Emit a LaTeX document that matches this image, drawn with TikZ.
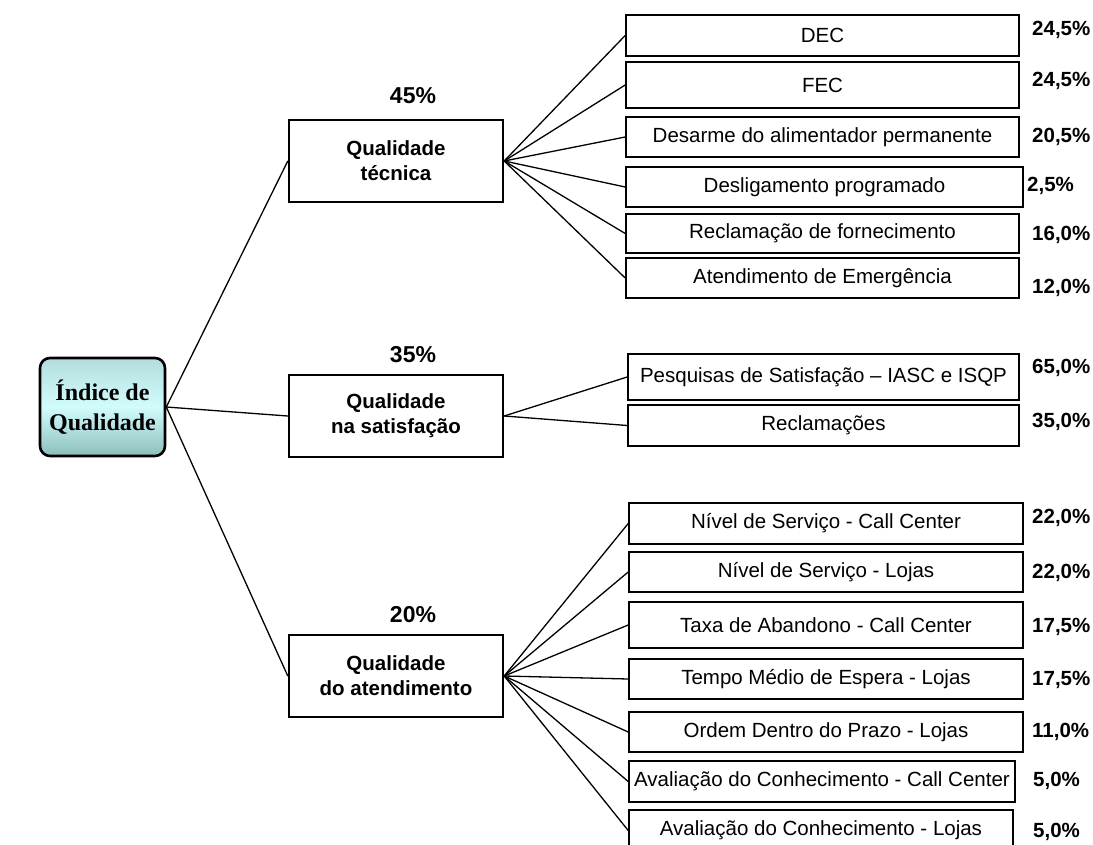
\documentclass[tikz,border=0pt]{standalone}
\usepackage{fontspec}
\setmainfont{Liberation Sans}
\newfontfamily\rootfont{Liberation Serif}
\begin{document}
\begin{tikzpicture}[x=1pt,y=-1pt,
  rootbox/.style={draw=black, line width=2.6pt, rounded corners=10pt,
    top color=rootTop, bottom color=rootBot, middle color=rootMid,
    minimum width=125pt, minimum height=98pt, inner sep=0pt, align=center,
    font=\rootfont\bfseries\fontsize{24}{30}\selectfont},
  midbox/.style={draw=black, line width=2.4pt, fill=white,
    minimum width=214pt, minimum height=82pt, inner sep=0pt, align=center,
    font=\bfseries\fontsize{20.5}{25}\selectfont},
  leaf/.style={draw=black, line width=1.6pt, fill=white,
    minimum width=393pt, inner sep=0pt, align=center,
    font=\fontsize{20.5}{24}\selectfont},
  weight/.style={anchor=west, inner sep=0pt, font=\bfseries\fontsize{20.5}{24}\selectfont},
  groupweight/.style={inner sep=0pt, font=\bfseries\fontsize{23}{27}\selectfont},
  link/.style={draw=black, line width=1.3pt}]
\definecolor{rootTop}{HTML}{B4DCDC}
\definecolor{rootMid}{HTML}{D2FCFC}
\definecolor{rootBot}{HTML}{8CBEBC}

\useasboundingbox (0,0) rectangle (1093,845);
\clip (0,0) rectangle (1093,845);

% root
\node[rootbox] (root) at (102.5,407) {Índice de\\Qualidade};

% groups
\node[midbox] (tec) at (396,161) {Qualidade\\técnica};
\node[midbox] (sat) at (396,416) {Qualidade\\na satisfação};
\node[midbox] (ate) at (396,676) {Qualidade\\do atendimento};

\node[groupweight] (wtec) at (413,96) {45\%};
\node[groupweight] (wsat) at (413,355) {35\%};
\node[groupweight] (wate) at (413,615) {20\%};

% technical quality indicators
\node[leaf, minimum height=41pt] (dec) at (822.5,35.5) {DEC};
\node[leaf, minimum height=46pt] (fec) at (822.5,85) {FEC};
\node[leaf, minimum height=40pt] (des) at (822.5,137) {Desarme do alimentador permanente};
\node[leaf, minimum height=40pt, minimum width=397pt] (dsp) at (824.5,187) {Desligamento programado};
\node[leaf, minimum height=39pt] (rfo) at (822.5,233.5) {Reclamação de fornecimento};
\node[leaf, minimum height=40pt] (aem) at (822.5,278) {Atendimento de Emergência};

% satisfaction indicators
\node[leaf, minimum height=46pt, minimum width=391pt] (pes) at (823.5,377) {Pesquisas de Satisfação – IASC e ISQP};
\node[leaf, minimum height=41pt, minimum width=391pt] (rec) at (823.5,425.5) {Reclamações};

% service indicators
\node[leaf, minimum height=41pt, minimum width=394pt] (ncc) at (826,523.5) {Nível de Serviço - Call Center};
\node[leaf, minimum height=40pt, minimum width=394pt] (nlj) at (826,572) {Nível de Serviço - Lojas};
\node[leaf, minimum height=46pt, minimum width=394pt] (tab) at (826,625) {Taxa de Abandono - Call Center};
\node[leaf, minimum height=40pt, minimum width=394pt] (tme) at (826,679) {Tempo Médio de Espera - Lojas};
\node[leaf, minimum height=40pt, minimum width=394pt] (odp) at (826,732) {Ordem Dentro do Prazo - Lojas};
\node[leaf, minimum height=41pt, minimum width=386pt] (acc) at (822,781.5) {Avaliação do Conhecimento - Call Center};
\node[leaf, minimum height=41pt, minimum width=384pt] (alj) at (821,830.5) {Avaliação do Conhecimento - Lojas};

% weights
\node[weight] (pdec) at (1032,30) {24,5\%};
\node[weight] (pfec) at (1032,81) {24,5\%};
\node[weight] (pdes) at (1032,137) {20,5\%};
\node[weight] (pdsp) at (1027,186) {2,5\%};
\node[weight] (prfo) at (1032,235) {16,0\%};
\node[weight] (paem) at (1032,288) {12,0\%};
\node[weight] (ppes) at (1032,368) {65,0\%};
\node[weight] (prec) at (1032,422) {35,0\%};
\node[weight] (pncc) at (1032,518) {22,0\%};
\node[weight] (pnlj) at (1032,573) {22,0\%};
\node[weight] (ptab) at (1032,627) {17,5\%};
\node[weight] (ptme) at (1032,680) {17,5\%};
\node[weight] (podp) at (1032,732) {11,0\%};
\node[weight] (pacc) at (1033,781) {5,0\%};
\node[weight] (palj) at (1033,832) {5,0\%};

% connectors
\foreach \g in {tec,sat,ate} \draw[link] (root.east) -- (\g.west);
\foreach \c in {dec,fec,des,dsp,rfo,aem} \draw[link] (tec.east) -- (\c.west);
\foreach \c in {pes,rec} \draw[link] (sat.east) -- (\c.west);
\foreach \c in {ncc,nlj,tab,tme,odp,acc,alj} \draw[link] (ate.east) -- (\c.west);
\end{tikzpicture}
\end{document}
